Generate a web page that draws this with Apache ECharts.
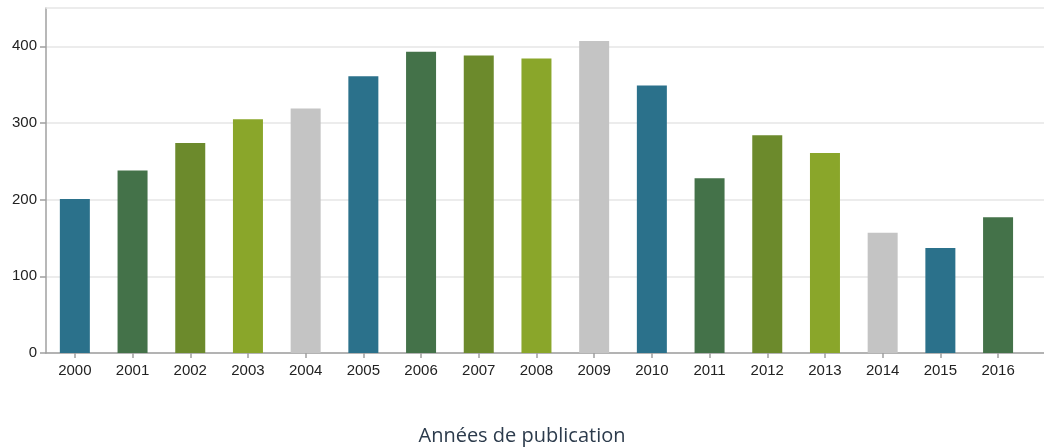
<!DOCTYPE html>
<html>
<head>
<meta charset="utf-8">
<script src="https://cdn.jsdelivr.net/npm/echarts@6/dist/echarts.min.js"></script>
<style>
html,body{margin:0;padding:0;background:#fff;}
#chart{width:1044px;height:447px;}
</style>
</head>
<body>
<div id="chart"></div>
<script>
const years = ['2000','2001','2002','2003','2004','2005','2006','2007','2008','2009','2010','2011','2012','2013','2014','2015','2016'];
const values = [201, 238, 274, 305, 319, 361, 393, 388, 384, 407, 349, 228, 284, 261, 157, 137, 177];
const palette = ['#2b718b', '#447249', '#6c8a2c', '#8aa62a', '#c4c4c4'];
const yTicks = [0, 100, 200, 300, 400];
const axisTitle = 'Années de publication';

const xIdx = years.map((y, i) => i);
const chart = echarts.init(document.getElementById('chart'), null, {renderer: 'canvas'});
chart.setOption({
  animation: false,
  backgroundColor: '#ffffff',
  title: {
    text: axisTitle,
    left: 'center',
    top: 421,
    textStyle: {fontFamily: 'Open Sans', fontSize: 20, fontWeight: 'normal', color: '#2c3b4c'}
  },
  grid: {left: 46, right: 0, top: 8, bottom: 94, containLabel: false},
  xAxis: [{
    type: 'value',
    min: -0.5,
    max: 16.796,
    axisLine: {show: true, onZero: false, lineStyle: {color: '#a0a0a0', width: 1.5}},
    axisTick: {show: true, length: 5, customValues: xIdx, lineStyle: {color: '#a0a0a0', width: 1.5}},
    axisLabel: {customValues: xIdx, formatter: v => years[Math.round(v)], color: '#222', fontFamily: 'Liberation Sans', fontSize: 15, margin: 10},
    splitLine: {show: false}
  }, {
    type: 'value',
    position: 'top',
    min: -0.5,
    max: 16.796,
    axisLine: {show: true, onZero: false, lineStyle: {color: '#e6e6e6', width: 1.5}},
    axisTick: {show: false},
    axisLabel: {show: false},
    splitLine: {show: false}
  }],
  yAxis: {
    type: 'value',
    min: 0,
    max: 450,
    interval: 50,
    axisLine: {show: true, onZero: false, lineStyle: {color: '#a0a0a0', width: 1.5}},
    axisTick: {show: true, length: 6, customValues: yTicks, lineStyle: {color: '#a0a0a0', width: 1.5}},
    axisLabel: {customValues: yTicks, color: '#222', fontFamily: 'Liberation Sans', fontSize: 15, margin: 9},
    splitLine: {show: true, lineStyle: {color: '#e6e6e6', width: 1.5}}
  },
  series: [{
    type: 'bar',
    xAxisIndex: 0,
    barWidth: 30,
    data: values.map((v, i) => ({value: [i, v], itemStyle: {color: palette[i % palette.length]}}))
  }]
});
</script>
</body>
</html>
